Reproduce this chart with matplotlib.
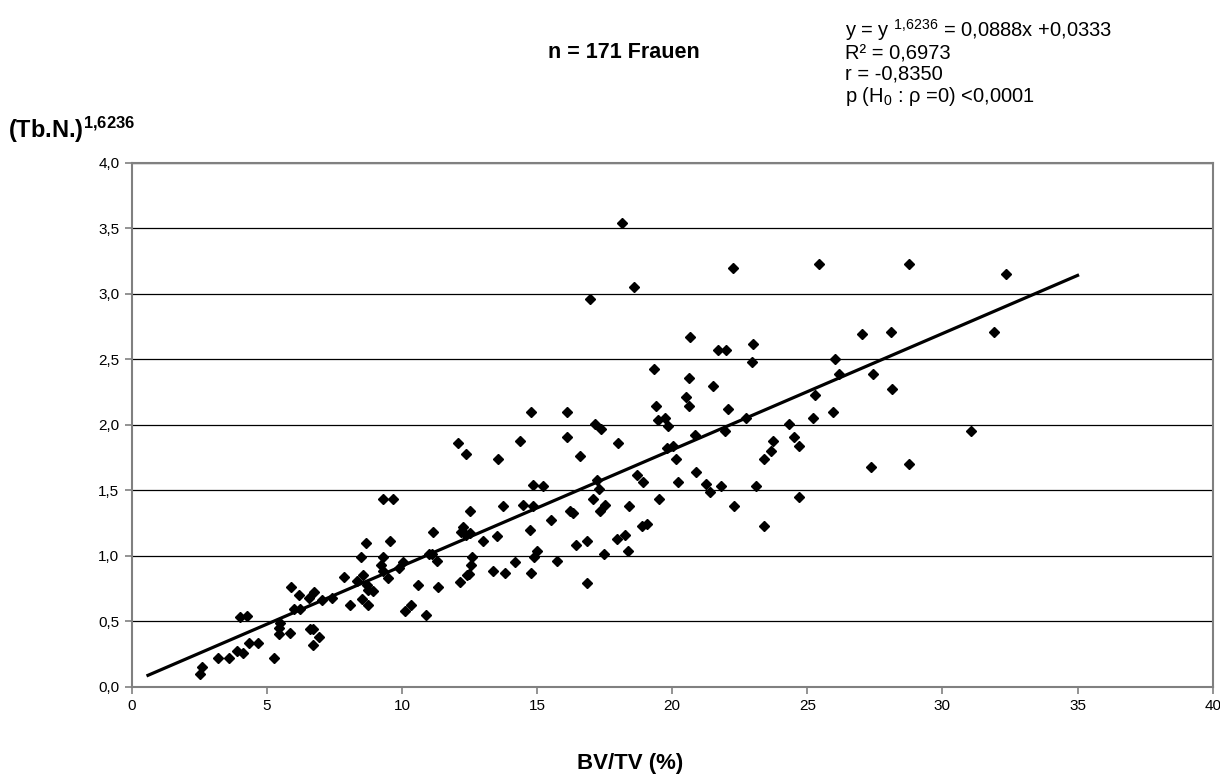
import matplotlib
matplotlib.use("Agg")
import matplotlib.pyplot as plt
from matplotlib.ticker import FuncFormatter, MultipleLocator

plt.rcParams['font.family'] = ['Liberation Sans', 'DejaVu Sans']
plt.rcParams['mathtext.fontset'] = 'custom'
plt.rcParams['mathtext.rm'] = 'Liberation Sans'
plt.rcParams['mathtext.it'] = 'Liberation Sans:italic'
plt.rcParams['mathtext.bf'] = 'Liberation Sans:bold'

# BV/TV (%) values
bvtv = [2.53, 2.59, 3.20, 3.61, 3.88, 4.13, 4.00, 4.25, 4.35, 4.68, 5.26, 5.48, 5.45, 5.46,
        5.85, 5.89, 6.19, 6.01, 6.22, 6.56, 6.74, 6.61, 6.72, 6.69, 6.94, 7.03, 7.40, 7.86,
        8.09, 8.32, 8.57, 8.53, 8.76, 8.47, 8.65, 8.69, 8.73, 8.94, 9.31, 9.67, 9.55, 9.31,
        9.22, 9.31, 9.49, 10.05, 9.90, 10.11,
        10.35, 10.88, 10.61, 11.01, 11.10, 11.15, 11.28, 11.34, 12.06, 12.36, 12.14, 12.41,
        12.48, 12.24, 12.20, 12.36, 12.51, 12.51, 12.60, 12.57, 12.98, 13.37, 13.50, 13.54,
        13.74, 13.81, 14.18, 14.36, 14.48, 14.76, 14.85, 15.20, 14.85, 14.73, 15.00, 14.88,
        14.79, 15.53, 15.75, 16.12, 16.12, 16.21, 16.31, 16.43, 16.58, 16.86, 16.86, 17.13,
        17.36, 18.00, 17.20, 17.28, 17.07, 17.32, 17.53, 17.48, 17.94, 18.24, 18.37, 18.40,
        18.68, 18.92, 18.88, 19.05, 19.39, 19.48, 19.51,
        18.16, 18.58, 22.25, 25.45, 28.78, 16.95, 20.65, 21.69, 22.00, 22.99, 22.96, 19.32,
        20.62, 21.51, 20.52, 20.62, 19.72, 19.85, 22.06, 19.82, 20.03, 20.15, 20.83, 21.94,
        22.72, 20.21, 20.87, 21.24, 21.39, 21.79, 23.11, 22.29, 23.38, 23.38, 23.67, 23.73,
        24.32, 24.49, 24.71, 24.71, 25.21, 25.27, 25.95, 26.01, 26.19, 27.03, 28.08, 27.43,
        28.14, 27.37, 28.76,
        32.36, 31.89, 31.06]

# (Tb.N.)^1.6236 values
tbn = [0.10, 0.15, 0.22, 0.22, 0.27, 0.26, 0.53, 0.54, 0.33, 0.33, 0.22, 0.49, 0.45, 0.40,
       0.41, 0.76, 0.70, 0.59, 0.59, 0.68, 0.72, 0.44, 0.44, 0.32, 0.38, 0.66, 0.68, 0.84,
       0.62, 0.81, 0.85, 0.67, 0.62, 0.99, 1.10, 0.78, 0.74, 0.73, 1.43, 1.43, 1.11, 0.99,
       0.93, 0.88, 0.83, 0.95, 0.91, 0.58,
       0.62, 0.55, 0.78, 1.01, 1.01, 1.18, 0.96, 0.76, 1.86, 1.78, 0.80, 0.85,
       0.86, 1.22, 1.18, 1.16, 1.17, 1.34, 0.99, 0.93, 1.11, 0.88, 1.15, 1.74,
       1.38, 0.87, 0.95, 1.88, 1.39, 2.10, 1.54, 1.53, 1.38, 1.20, 1.04, 0.99,
       0.87, 1.27, 0.96, 2.10, 1.91, 1.34, 1.33, 1.08, 1.76, 1.11, 0.79, 2.01,
       1.97, 1.86, 1.58, 1.51, 1.43, 1.34, 1.39, 1.01, 1.13, 1.16, 1.04, 1.38,
       1.62, 1.56, 1.23, 1.24, 2.14, 2.04, 1.43,
       3.54, 3.05, 3.20, 3.23, 3.23, 2.96, 2.67, 2.57, 2.57, 2.62, 2.48, 2.43,
       2.36, 2.30, 2.21, 2.14, 2.05, 1.99, 2.12, 1.82, 1.84, 1.74, 1.92, 1.95,
       2.05, 1.56, 1.64, 1.55, 1.49, 1.53, 1.53, 1.38, 1.23, 1.74, 1.80, 1.88,
       2.01, 1.91, 1.84, 1.45, 2.05, 2.23, 2.10, 2.50, 2.39, 2.69, 2.71, 2.39,
       2.27, 1.68, 1.70,
       3.15, 2.71, 1.95]

slope = 0.0888
intercept = 0.0333
line_x = [0.6, 35.0]

fig = plt.figure(figsize=(12.2, 7.78), dpi=100)
ax = fig.add_axes([0.108, 0.1174, 0.886, 0.6731])

ax.set_xlim(0, 40)
ax.set_ylim(0, 4.0)
ax.xaxis.set_major_locator(MultipleLocator(5))
ax.yaxis.set_major_locator(MultipleLocator(0.5))
ax.yaxis.set_major_formatter(FuncFormatter(lambda v, p: f"{v:.1f}".replace('.', ',')))
ax.xaxis.set_major_formatter(FuncFormatter(lambda v, p: f"{v:.0f}"))

ax.grid(axis='y', color='black', lw=0.9, zorder=0)
ax.set_axisbelow(True)
for s in ax.spines.values():
    s.set_color('#808080')
    s.set_linewidth(1.5)
ax.tick_params(axis='both', direction='out', length=5, width=1.2, color='#808080',
               labelsize=11, labelcolor='black', pad=4)

ax.plot(bvtv, tbn, linestyle='none', marker='D', markersize=4.8, color='black', zorder=3)
ax.plot(line_x, [slope * v + intercept for v in line_x], color='black', lw=2.3, zorder=4)

fig.text(624 / 1220, 1 - 52 / 778, 'n = 171 Frauen', ha='center', va='center',
         fontsize=15.5, fontweight='bold')
fig.text(8 / 1220, 1 - 130 / 778, r'(Tb.N.)$^{\mathbf{1{,}6236}}$', ha='left', va='center',
         fontsize=17, fontweight='bold')
fig.text(630 / 1220, 1 - 763 / 778, 'BV/TV (%)', ha='center', va='center',
         fontsize=16, fontweight='bold')

stats = [r'y = y $^{\mathrm{1{,}6236}}$ = 0,0888x +0,0333',
         'R² = 0,6973',
         'r = -0,8350',
         r'p (H$_\mathrm{0}$ : ρ =0) <0,0001']
baselines = [37, 59, 80, 102]
for t, yy in zip(stats, baselines):
    fig.text(845 / 1220, 1 - yy / 778, t, ha='left', va='baseline', fontsize=14.5)

fig.savefig('out.png', dpi=100)
